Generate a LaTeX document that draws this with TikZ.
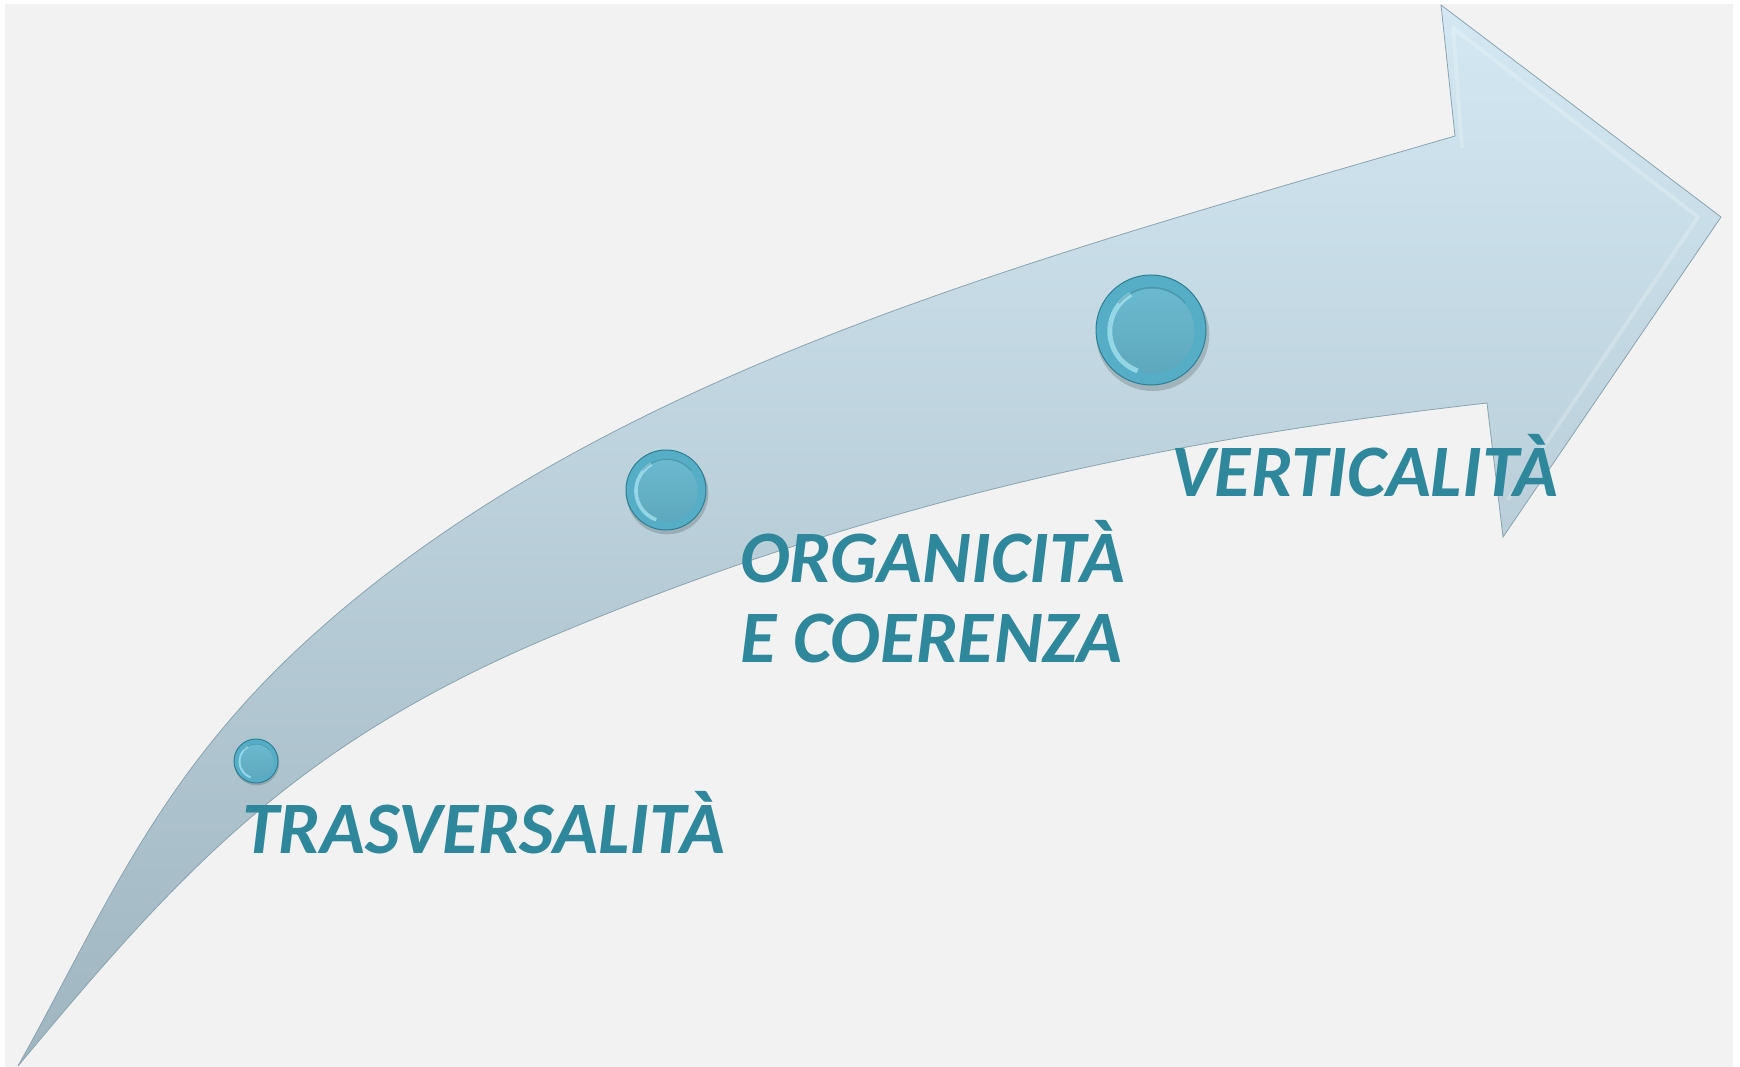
\documentclass[tikz,border=0pt]{standalone}
\usepackage{fontspec}
\setmainfont{Carlito}
\definecolor{bgcol}{HTML}{F2F2F2}
\definecolor{arrowtop}{HTML}{D3E8F2}
\definecolor{arrowbot}{HTML}{9FB5BF}
\definecolor{arrowedge}{HTML}{8AA4B0}
\definecolor{txtcol}{HTML}{2F879B}
\definecolor{ballouter}{HTML}{55AEC6}
\definecolor{ballrim}{HTML}{2E7F93}
\definecolor{ballintop}{HTML}{6BB9CF}
\definecolor{ballinbot}{HTML}{5EA8BC}
\definecolor{ballhi}{HTML}{A8E4F2}
\tikzset{
  label text/.style={font=\fontsize{74}{78}\selectfont\bfseries\itshape, text=txtcol, inner sep=0pt, anchor=base west},
}
\newcommand{\glossball}[4]{% name, x, y, r
  \fill[black, opacity=0.16] (#2+0.03*#4,#3+0.08*#4) circle[radius=#4*1.03];
  \node[circle, minimum size=2*#4, inner sep=0pt, fill=ballouter, draw=ballrim, line width=1pt] (#1) at (#2,#3) {};
  \shade[top color=ballintop, bottom color=ballinbot] (#2+0.02*#4,#3+0.02*#4) circle[radius=0.77*#4];
  \draw[ballhi, line width=0.09*#4, opacity=0.75] (#2+0.02*#4,#3+0.02*#4) ++(110:0.77*#4) arc[start angle=110, end angle=240, radius=0.77*#4];
  \draw[ballinbot!70!black, line width=0.03*#4, opacity=0.35] (#2+0.02*#4,#3+0.02*#4) ++(-40:0.79*#4) arc[start angle=-40, end angle=-140, radius=0.79*#4];
}
\begin{document}
\begin{tikzpicture}[x=1pt,y=-1pt]
\useasboundingbox (0,0) rectangle (1740,1067);
\fill[white] (0,0) rectangle (1740,1067);
\fill[bgcol] (5,4) rectangle (1733,1067);
% arrow
\coordinate (tail) at (18,1066);
\coordinate (upmid) at (300,647);
\coordinate (headtop) at (1455,136);
\coordinate (barbtop) at (1441,5);
\coordinate (tip) at (1721,217);
\coordinate (barbbot) at (1503,537);
\coordinate (headbot) at (1487,403);
\coordinate (lowmid) at (550,637);
\path[top color=arrowtop, bottom color=arrowbot, draw=arrowedge, line width=0.8pt, line join=miter]
  (tail) .. controls (101,918) and (154,783) .. (upmid)
  .. controls (593,375) and (1023,262) .. (headtop)
  -- (barbtop) -- (tip) -- (barbbot) -- (headbot)
  .. controls (1179,438) and (882,497) .. (lowmid)
  .. controls (292,746) and (178,874) .. (tail) -- cycle;
% subtle inner bevel of the head
\draw[white, opacity=0.22, line width=4pt, line join=round] (1462,148) -- (1453,28) -- (1698,217) -- (1508,500);
% balls
\glossball{b1}{256}{761}{22}
\glossball{b2}{666}{490}{40}
\glossball{b3}{1151}{330}{55}
% labels
\node[label text] (t1) at (242,853) {TRASVERSALITÀ};
\node[label text] (t2) at (740,582) {ORGANICITÀ};
\node[label text] (t3) at (740,662) {E COERENZA};
\node[label text] (t4) at (1171,496) {VERTICALITÀ};
\end{tikzpicture}
\end{document}
